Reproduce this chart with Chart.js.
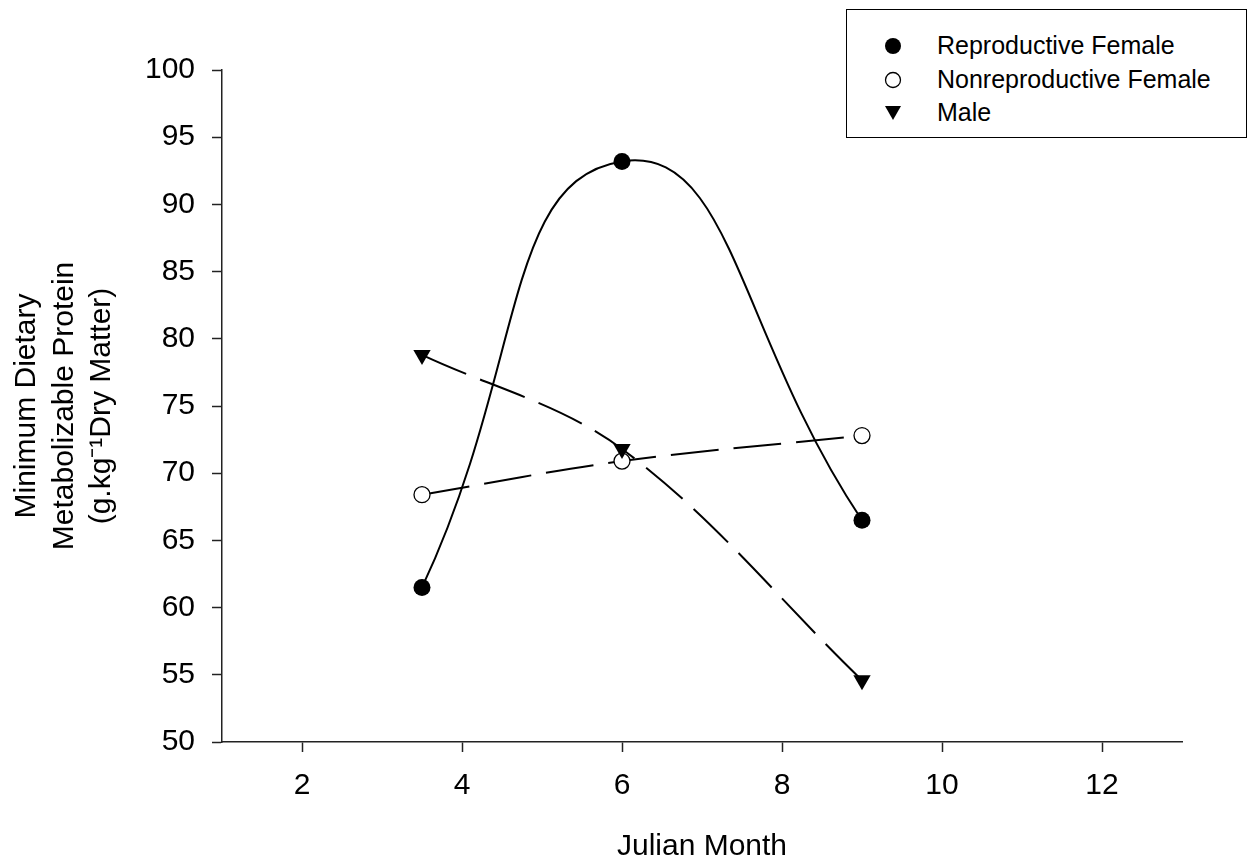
<!DOCTYPE html>
<html lang="en">
<head>
    <meta charset="UTF-8">
    <title>Minimum Dietary Metabolizable Protein</title>
    <script src="https://cdn.jsdelivr.net/npm/chart.js"></script>
    <style>
        html, body {
            margin: 0;
            padding: 0;
            background: #fff;
        }
        .wrap {
            position: relative;
            width: 1254px;
            height: 865px;
        }
        .legend {
            position: absolute;
            left: 846px;
            top: 9px;
            width: 399px;
            height: 127px;
            border: 1px solid #000;
            background: #fff;
            font-family: Arial, "Liberation Sans", sans-serif;
            font-size: 25px;
            color: #000;
        }
        .legend .row {
            position: absolute;
            left: 0;
            height: 30px;
            line-height: 30px;
        }
        .legend svg {
            position: absolute;
            left: 37px;
            top: 7px;
        }
        .legend span {
            position: absolute;
            left: 90px;
            white-space: nowrap;
        }
    </style>
</head>
<body>
<div class="wrap">
    <canvas id="chart" width="1254" height="865"></canvas>
    <div class="legend">
        <div class="row" style="top:20px">
            <svg width="18" height="18"><circle cx="9" cy="9" r="8" fill="#000"/></svg>
            <span>Reproductive Female</span>
        </div>
        <div class="row" style="top:54px">
            <svg width="18" height="18"><circle cx="9" cy="9" r="7.5" fill="#fff" stroke="#000" stroke-width="1.3"/></svg>
            <span>Nonreproductive Female</span>
        </div>
        <div class="row" style="top:87px">
            <svg width="18" height="18"><polygon points="1,2 17,2 9,16" fill="#000"/></svg>
            <span>Male</span>
        </div>
    </div>
</div>

<script>
    // Sampling months and group means
    const months = [3.5, 6, 9];
    const reproFemale = [61.5, 93.2, 66.5];
    const nonreproFemale = [68.4, 70.9, 72.8];
    const male = [78.8, 71.8, 54.6];

    const xTicks = [2, 4, 6, 8, 10, 12];
    const yTicks = [50, 55, 60, 65, 70, 75, 80, 85, 90, 95, 100];

    const toPoints = vals => vals.map((v, i) => ({ x: months[i], y: v }));
    const font = 'Arial, "Liberation Sans", sans-serif';

    new Chart(document.getElementById('chart'), {
        type: 'line',
        data: {
            datasets: [
                {
                    label: 'Reproductive Female',
                    data: toPoints(reproFemale),
                    borderColor: '#000',
                    borderWidth: 2,
                    tension: 0.52,
                    pointStyle: 'circle',
                    pointRadius: 8.5,
                    pointBackgroundColor: '#000',
                    pointBorderColor: '#000',
                    pointBorderWidth: 0,
                    order: 0
                },
                {
                    label: 'Male',
                    data: toPoints(male),
                    borderColor: '#000',
                    borderWidth: 2,
                    borderDash: [48, 15],
                    tension: 0.35,
                    pointStyle: 'triangle',
                    pointRotation: 180,
                    pointRadius: 10,
                    pointBackgroundColor: '#000',
                    pointBorderColor: '#000',
                    pointBorderWidth: 0,
                    order: 1
                },
                {
                    label: 'Nonreproductive Female',
                    data: toPoints(nonreproFemale),
                    borderColor: '#000',
                    borderWidth: 2,
                    borderDash: [48, 15],
                    tension: 0.35,
                    pointStyle: 'circle',
                    pointRadius: 8,
                    pointBackgroundColor: '#fff',
                    pointBorderColor: '#000',
                    pointBorderWidth: 1.3,
                    order: 2
                }
            ]
        },
        options: {
            responsive: false,
            animation: false,
            layout: {
                padding: { top: 70, right: 72, left: 0, bottom: 0 }
            },
            plugins: {
                legend: { display: false },
                tooltip: { enabled: false }
            },
            scales: {
                x: {
                    type: 'linear',
                    min: 1,
                    max: 13,
                    afterBuildTicks: s => { s.ticks = xTicks.map(v => ({ value: v })); },
                    afterFit: s => { s.height = 123; },
                    border: { display: true, color: '#222', width: 1.5 },
                    grid: {
                        drawOnChartArea: false,
                        drawTicks: true,
                        tickLength: 10,
                        tickColor: '#222',
                        tickWidth: 1.5
                    },
                    ticks: {
                        color: '#000',
                        font: { family: font, size: 30 },
                        padding: 16,
                        maxRotation: 0
                    },
                    title: {
                        display: true,
                        text: 'Julian Month',
                        color: '#000',
                        font: { family: font, size: 30, lineHeight: 1.2 },
                        padding: { top: 0, bottom: 0 }
                    }
                },
                y: {
                    type: 'linear',
                    min: 50,
                    max: 100,
                    afterBuildTicks: s => { s.ticks = yTicks.map(v => ({ value: v })); },
                    afterFit: s => { s.width = 222; },
                    border: { display: true, color: '#222', width: 1.5 },
                    grid: {
                        drawOnChartArea: false,
                        drawTicks: true,
                        tickLength: 10,
                        tickColor: '#222',
                        tickWidth: 1.5
                    },
                    ticks: {
                        color: '#000',
                        font: { family: font, size: 30 },
                        padding: 17
                    },
                    title: {
                        display: true,
                        text: ['Minimum Dietary', 'Metabolizable Protein', '(g.kg\u207B\u00B9Dry Matter)'],
                        color: '#000',
                        font: { family: font, size: 30, lineHeight: 1.25 },
                        padding: { top: 8, bottom: 0 }
                    }
                }
            }
        }
    });
</script>
</body>
</html>
